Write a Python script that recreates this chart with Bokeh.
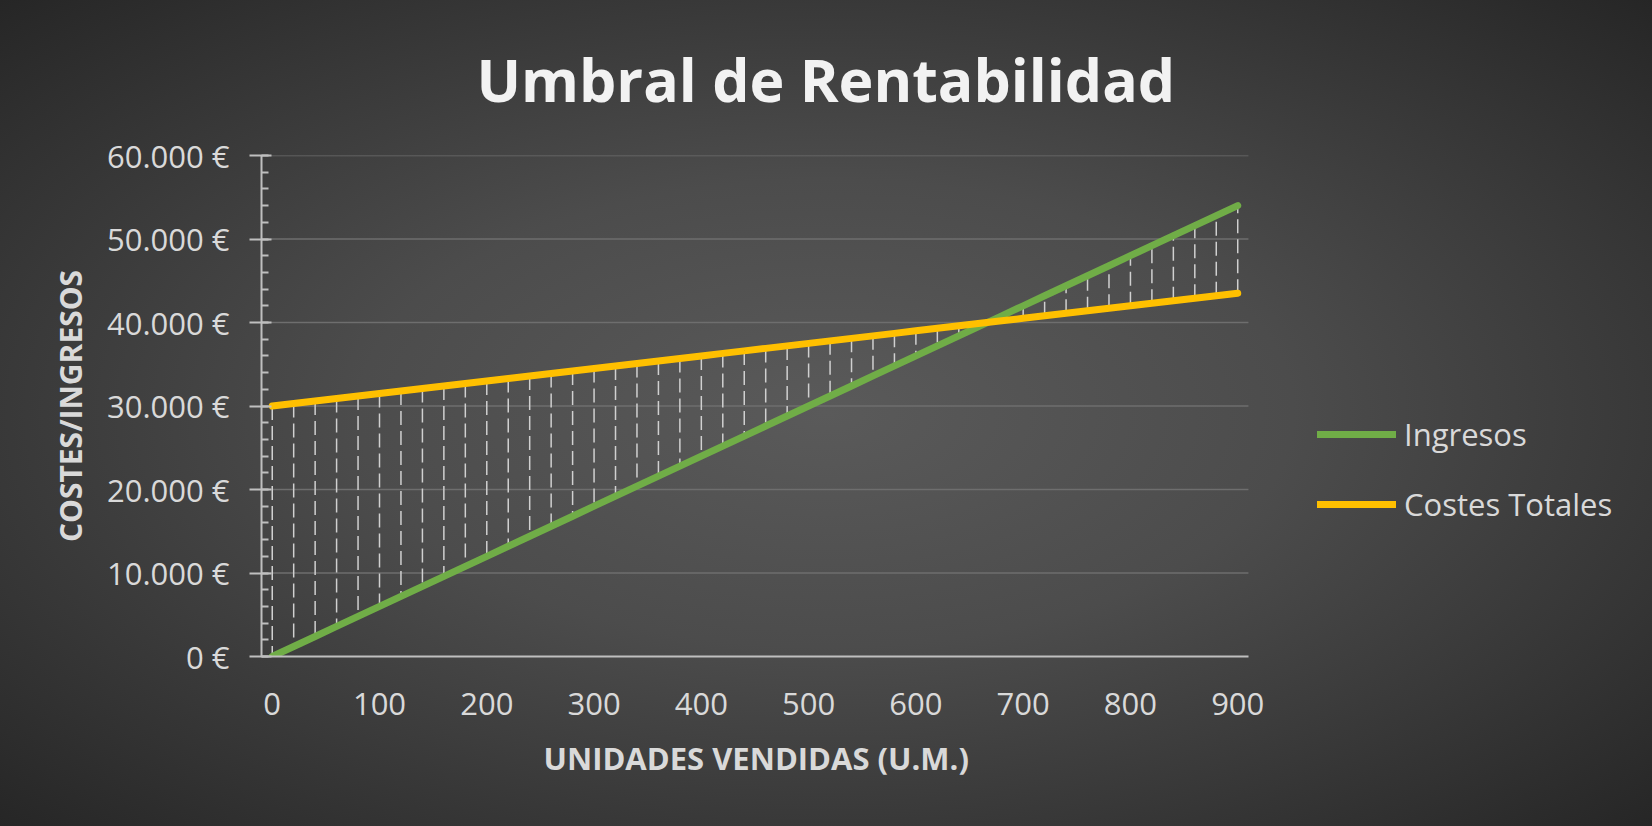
from bokeh.plotting import figure
from bokeh.models import (Range1d, SingleIntervalTicker, FixedTicker, Legend, LegendItem, Title)
from bokeh.embed import file_html
from bokeh.resources import INLINE

# ---- data ----
units = [0, 20, 40, 60, 80, 100, 120, 140, 160, 180, 200, 220, 240, 260, 280, 300,
         320, 340, 360, 380, 400, 420, 440, 460, 480, 500, 520, 540, 560, 580, 600,
         620, 640, 660, 680, 700, 720, 740, 760, 780, 800, 820, 840, 860, 880, 900]
ingresos = [0, 1200, 2400, 3600, 4800, 6000, 7200, 8400, 9600, 10800, 12000, 13200,
            14400, 15600, 16800, 18000, 19200, 20400, 21600, 22800, 24000, 25200,
            26400, 27600, 28800, 30000, 31200, 32400, 33600, 34800, 36000, 37200,
            38400, 39600, 40800, 42000, 43200, 44400, 45600, 46800, 48000, 49200,
            50400, 51600, 52800, 54000]
costes = [30000, 30300, 30600, 30900, 31200, 31500, 31800, 32100, 32400, 32700, 33000,
          33300, 33600, 33900, 34200, 34500, 34800, 35100, 35400, 35700, 36000, 36300,
          36600, 36900, 37200, 37500, 37800, 38100, 38400, 38700, 39000, 39300, 39600,
          39900, 40200, 40500, 40800, 41100, 41400, 41700, 42000, 42300, 42600, 42900,
          43200, 43500]
x_ticks = [0, 100, 200, 300, 400, 500, 600, 700, 800, 900]
y_ticks = [0, 10000, 20000, 30000, 40000, 50000, 60000]
y_tick_labels = ["0 €", "10.000 €", "20.000 €", "30.000 €", "40.000 €", "50.000 €", "60.000 €"]
series_names = ["Ingresos", "Costes Totales"]
title_text = "Umbral de Rentabilidad"
x_label = "UNIDADES VENDIDAS (U.M.)"
y_label = "COSTES/INGRESOS"

GREEN = "#70ad47"
YELLOW = "#ffc000"
TXT = "#d9d9d9"
FONT = "Open Sans"

# category axis spans -10..910; the frame is widened to the right to hold the legend
X_START, X_END = -10, 910
p = figure(width=1652, height=826, output_backend="svg", toolbar_location=None,
           x_range=Range1d(X_START, 1268), y_range=Range1d(0, 60000),
           min_border_left=261, min_border_right=20, min_border_top=155,
           min_border_bottom=170)
p.styles = {"background": "radial-gradient(ellipse farthest-corner at 50% 50%, #5a5a5a 0%, #4c4c4c 40%, #262626 100%)"}
p.border_fill_alpha = 0
p.background_fill_alpha = 0
p.outline_line_color = None

# title
p.title.text = title_text
p.title.align = "left"
p.title.offset = 215
p.title.vertical_align = "top"
p.title.standoff = 70
p.title.text_font = FONT
p.title.text_font_style = "bold"
p.title.text_font_size = "59px"
p.title.text_color = "#f2f2f2"

# grid (horizontal gridlines limited to the category span)
p.xgrid.grid_line_color = None
p.ygrid.grid_line_color = None
p.segment(x0=[X_START] * len(y_ticks[1:]), y0=y_ticks[1:],
          x1=[X_END] * len(y_ticks[1:]), y1=y_ticks[1:],
          line_color="#6e6e6e", line_width=1.5)

# y axis
ya = p.yaxis[0]
ya.ticker = SingleIntervalTicker(interval=10000, num_minor_ticks=5)
ya.major_label_overrides = {v: s for v, s in zip(y_ticks, y_tick_labels)}
ya.axis_line_color = "#bfbfbf"
ya.axis_line_width = 2
ya.major_tick_line_color = "#bfbfbf"
ya.major_tick_line_width = 2
ya.major_tick_out = 12
ya.major_tick_in = 10
ya.minor_tick_line_color = "#bfbfbf"
ya.minor_tick_line_width = 2
ya.minor_tick_in = 7
ya.minor_tick_out = 0
ya.major_label_text_font = FONT
ya.major_label_text_font_size = "31px"
ya.major_label_text_color = TXT
ya.major_label_standoff = 20
ya.axis_label = y_label
ya.axis_label_text_font = FONT
ya.axis_label_text_font_style = "bold"
ya.axis_label_text_font_size = "30px"
ya.axis_label_text_color = TXT
ya.axis_label_standoff = 13

# x axis
xa = p.xaxis[0]
xa.bounds = (X_START, X_END)
xa.ticker = FixedTicker(ticks=x_ticks)
xa.axis_line_color = "#bfbfbf"
xa.axis_line_width = 2
xa.major_tick_in = 0
xa.major_tick_out = 0
xa.minor_tick_in = 0
xa.minor_tick_out = 0
xa.major_label_text_font = FONT
xa.major_label_text_font_size = "31px"
xa.major_label_text_color = TXT
xa.major_label_standoff = 36

# x axis title, centred under the category span
xtitle = Title(text=x_label, align="left", offset=282, vertical_align="top", standoff=38,
               text_font=FONT, text_font_style="bold", text_font_size="31px",
               text_color=TXT)
p.add_layout(xtitle, "below")

# drop lines
p.segment(x0=units, y0=costes, x1=units, y1=ingresos, line_color="#d0d0d0",
          line_width=1.5, line_dash="14 6")

r1 = p.line(units, ingresos, line_color=GREEN, line_width=7, line_cap="round")
r2 = p.line(units, costes, line_color=YELLOW, line_width=7, line_cap="round")

legend = Legend(items=[LegendItem(label=series_names[0], renderers=[r1]),
                       LegendItem(label=series_names[1], renderers=[r2])],
                location=(1056, 131), orientation="vertical",
                glyph_width=79, glyph_height=30, label_height=30, label_standoff=8,
                spacing=28, padding=0, margin=0,
                border_line_alpha=0, background_fill_alpha=0,
                label_text_font=FONT, label_text_font_size="31px",
                label_text_color=TXT)
p.add_layout(legend)

open("out.html", "w").write(file_html(p, INLINE))
